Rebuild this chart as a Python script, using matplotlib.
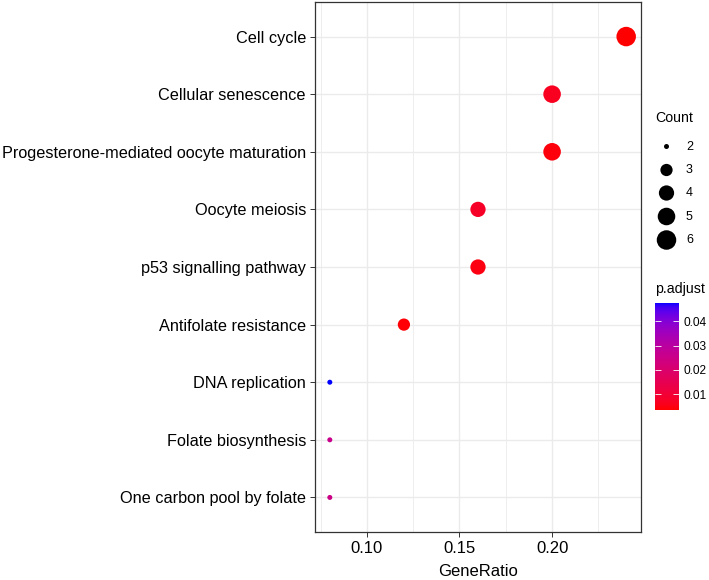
#!/usr/bin/env python3
import numpy as np
import matplotlib
matplotlib.use("Agg")
import matplotlib.pyplot as plt
from matplotlib.colors import ListedColormap, Normalize
from matplotlib.cm import ScalarMappable

plt.rcParams['font.family'] = ['Liberation Sans', 'DejaVu Sans']

terms = [
    "Cell cycle",
    "Cellular senescence",
    "Progesterone-mediated oocyte maturation",
    "Oocyte meiosis",
    "p53 signalling pathway",
    "Antifolate resistance",
    "DNA replication",
    "Folate biosynthesis",
    "One carbon pool by folate",
]
gene_ratio = [0.24, 0.20, 0.20, 0.16, 0.16, 0.12, 0.08, 0.08, 0.08]
counts = [6, 5, 5, 4, 4, 3, 2, 2, 2]
p_adjust = [0.0035, 0.0065, 0.0045, 0.0075, 0.0050, 0.0040, 0.0476, 0.0260, 0.0250]
cbar_ticks = [0.01, 0.02, 0.03, 0.04]
count_levels = [2, 3, 4, 5, 6]


# red -> blue gradient interpolated in CIELAB (like ggplot's gradient)
def srgb_to_lab(rgb):
    c = np.asarray(rgb, float)
    c = np.where(c > 0.04045, ((c + 0.055) / 1.055) ** 2.4, c / 12.92)
    M = np.array([[0.4124, 0.3576, 0.1805],
                  [0.2126, 0.7152, 0.0722],
                  [0.0193, 0.1192, 0.9505]])
    xyz = M @ c / np.array([0.95047, 1.0, 1.08883])
    f = np.where(xyz > 0.008856, np.cbrt(xyz), 7.787 * xyz + 16 / 116)
    return np.array([116 * f[1] - 16, 500 * (f[0] - f[1]), 200 * (f[1] - f[2])])


def lab_to_srgb(lab):
    L, a, b = lab
    fy = (L + 16) / 116
    fx = fy + a / 500
    fz = fy - b / 200
    f = np.array([fx, fy, fz])
    xyz = np.where(f ** 3 > 0.008856, f ** 3, (f - 16 / 116) / 7.787)
    xyz = xyz * np.array([0.95047, 1.0, 1.08883])
    Minv = np.array([[3.2406, -1.5372, -0.4986],
                     [-0.9689, 1.8758, 0.0415],
                     [0.0557, -0.2040, 1.0570]])
    c = Minv @ xyz
    c = np.where(c > 0.0031308, 1.055 * np.clip(c, 0, None) ** (1 / 2.4) - 0.055, 12.92 * c)
    return np.clip(c, 0, 1)


lab_lo = srgb_to_lab([1, 0, 0])
lab_hi = srgb_to_lab([0, 0, 1])
cmap = ListedColormap([lab_to_srgb(lab_lo + t * (lab_hi - lab_lo)) for t in np.linspace(0, 1, 256)])
norm = Normalize(vmin=min(p_adjust), vmax=max(p_adjust))


# size scale: area proportional, diameter 5 px .. 19.5 px
def diam_px(c):
    r = (np.asarray(c, float) - min(count_levels)) / (max(count_levels) - min(count_levels))
    return 5 + 14.5 * np.sqrt(r)


def marker_area(c):
    return (diam_px(c) * 0.72) ** 2


W, H = 709, 580
fig = plt.figure(figsize=(W / 100, H / 100), dpi=100)
ax = fig.add_axes([315 / W, 48 / H, 326 / W, 530 / H])

ypos = np.arange(len(terms))[::-1]
ax.scatter(gene_ratio, ypos, s=marker_area(counts), c=p_adjust, cmap=cmap, norm=norm,
           edgecolors='none', zorder=3)

ax.set_xlim(0.072, 0.248)
ax.set_ylim(-0.6, len(terms) - 0.4)
ax.set_yticks(ypos)
ax.set_yticklabels(terms, fontsize=11.7, color='black')
ax.set_xticks([0.10, 0.15, 0.20])
ax.set_xticklabels(["0.10", "0.15", "0.20"], fontsize=12, color='black')
ax.set_xticks([0.075, 0.125, 0.175, 0.225], minor=True)
ax.grid(True, which='major', color='#EBEBEB', linewidth=1.0, zorder=0)
ax.grid(True, which='minor', axis='x', color='#EBEBEB', linewidth=0.6, zorder=0)
ax.tick_params(which='major', length=3.5, width=0.7, color='#333333', pad=3)
ax.tick_params(which='minor', length=0)
for sp in ax.spines.values():
    sp.set_color('#333333')
    sp.set_linewidth(0.9)
ax.set_axisbelow(True)
ax.set_xlabel("GeneRatio", fontsize=12, labelpad=6)

# size legend
lax = fig.add_axes([645 / W, (H - 255) / H, 64 / W, 155 / H])
lax.set_xlim(645, 709)
lax.set_ylim(255, 100)
lax.axis('off')
leg_y = [146.5, 170, 193, 216.5, 240]
lax.scatter([666.5] * len(count_levels), leg_y, s=marker_area(count_levels), c='black',
            edgecolors='none', clip_on=False)
lax.text(655, 118, "Count", fontsize=10.2, va='center', ha='left')
for yy, lv in zip(leg_y, count_levels):
    lax.text(686, yy, str(lv), fontsize=9, va='center', ha='left')

# colour bar
cax = fig.add_axes([655 / W, (H - 410) / H, 23.5 / W, 107 / H])
cb = fig.colorbar(ScalarMappable(norm=norm, cmap=cmap), cax=cax, ticks=cbar_ticks)
cb.outline.set_visible(False)
cax.tick_params(left=True, right=True, direction='in', length=4.5, width=0.6,
                color='white', labelsize=8.6, pad=3.5)
cax.set_yticklabels(["0.01", "0.02", "0.03", "0.04"])
fig.text(655 / W, 1 - 289 / H, "p.adjust", fontsize=10.2, va='center', ha='left')

fig.savefig("out.png", dpi=100)
